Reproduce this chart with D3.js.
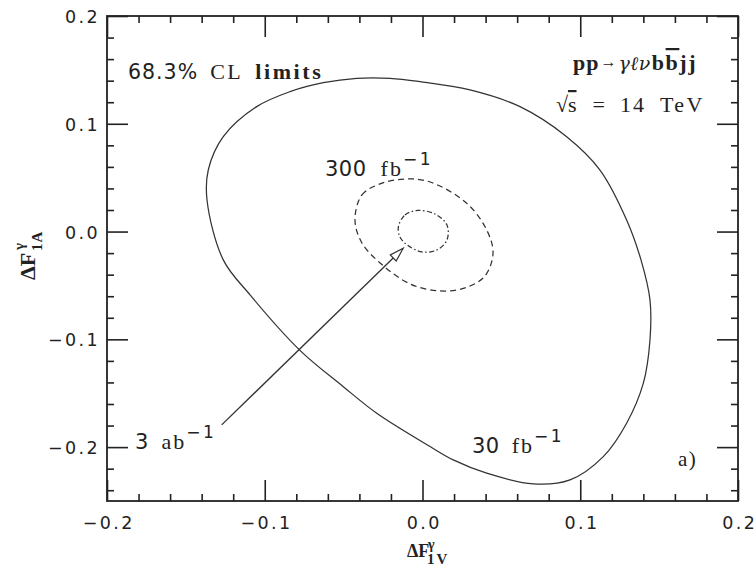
<!DOCTYPE html>
<html>
<head>
<meta charset="utf-8">
<script src="https://cdn.jsdelivr.net/npm/d3@7"></script>
<style>
  html, body { margin: 0; padding: 0; background: #fff; }
  svg { display: block; }
</style>
</head>
<body>
<svg id="chart" width="756" height="568"></svg>
<script>
// Axis ranges and tick values
const xDomain = [-0.2, 0.2];
const yDomain = [-0.25, 0.2];
const xMajor = [-0.2, -0.1, 0.0, 0.1, 0.2];
const yMajor = [-0.2, -0.1, 0.0, 0.1, 0.2];
const minorStep = 0.02;

// 68.3% CL contour, 30 fb^-1 (solid)
const ring30 = [
  [-0.0417, 0.1422], [-0.0206, 0.1422], [-0.0016, 0.1391], [0.0301, 0.1314],
  [0.0618, 0.1159], [0.0914, 0.0880], [0.1125, 0.0571], [0.1294, 0.0108],
  [0.1385, -0.0263], [0.1442, -0.0634], [0.1442, -0.1006], [0.1400, -0.1407],
  [0.1294, -0.1778], [0.1146, -0.2088], [0.0935, -0.2304], [0.0702, -0.2341],
  [0.0407, -0.2242], [0.0195, -0.2119], [0.0048, -0.1995], [-0.0290, -0.1686],
  [-0.0502, -0.1439], [-0.0777, -0.1102], [-0.1093, -0.0588], [-0.1263, -0.0263],
  [-0.1366, 0.0293], [-0.1358, 0.0571], [-0.1263, 0.0880], [-0.1051, 0.1159],
  [-0.0840, 0.1298], [-0.0629, 0.1381]
];

// 68.3% CL contour, 300 fb^-1 (dashed)
const ring300 = [
  [-0.0428, 0.0108], [-0.0384, 0.0340], [-0.0269, 0.0442], [-0.0111, 0.0488],
  [0.0048, 0.0460], [0.0280, 0.0263], [0.0407, 0.0015], [0.0447, -0.0199],
  [0.0396, -0.0412], [0.0269, -0.0523], [0.0111, -0.0551], [-0.0079, -0.0486],
  [-0.0269, -0.0291], [-0.0384, -0.0106]
];

// 68.3% CL contour, 3 ab^-1 (dash-dot)
const ring3000 = [
  [-0.0153, 0.0043], [-0.0111, 0.0154], [-0.0029, 0.0196], [0.0079, 0.0163],
  [0.0155, 0.0061], [0.0155, -0.0078], [0.0092, -0.0170], [-0.0003, -0.0189],
  [-0.0098, -0.0124], [-0.0143, -0.0050]
];

// Pointer from the "3 ab^-1" label to its contour
const arrowFrom = [-0.1273, -0.1794];
const arrowTo = [-0.0122, -0.0155];

const W = 756, H = 568;
const margin = { top: 16, right: 18, bottom: 67, left: 107 };
const ink = "#222";
const sans = "'DejaVu Sans', sans-serif";
const serif = "'Liberation Serif', 'DejaVu Serif', serif";
const serifWide = "'DejaVu Serif', serif";

const svg = d3.select("#chart");

const x = d3.scaleLinear().domain(xDomain).range([margin.left, W - margin.right]);
const y = d3.scaleLinear().domain(yDomain).range([H - margin.bottom, margin.top]);

const isMajor = v => Math.abs(v * 10 - Math.round(v * 10)) < 1e-6;
const stepTicks = (lo, hi) => d3.range(Math.round(lo / minorStep), Math.round(hi / minorStep) + 1)
  .map(i => +(i * minorStep).toFixed(2));
const xMinor = stepTicks(xDomain[0], xDomain[1]).filter(v => !isMajor(v));
const yMinor = stepTicks(yDomain[0], yDomain[1]).filter(v => !isMajor(v));

const fmt = d3.format(".1f");
const majorLen = 21, minorLen = 7;

function styleAxis(g) {
  g.select(".domain").remove();
  g.selectAll(".tick line").attr("stroke", ink).attr("stroke-width", 1.6);
  g.selectAll(".tick text")
    .attr("fill", ink)
    .attr("font-family", sans)
    .attr("font-size", 17.5)
    .attr("letter-spacing", 2.4);
}

const x0 = margin.left, x1 = W - margin.right;
const y0 = H - margin.bottom, y1 = margin.top;

// bottom axis
svg.append("g").attr("transform", `translate(0,${y0})`)
  .call(d3.axisBottom(x).tickValues(xMajor).tickSizeInner(-majorLen).tickSizeOuter(0)
    .tickPadding(16).tickFormat(fmt))
  .call(styleAxis)
  .call(g => g.selectAll(".tick text").attr("dx", 1.2));
svg.append("g").attr("transform", `translate(0,${y0})`)
  .call(d3.axisBottom(x).tickValues(xMinor).tickSizeInner(-minorLen).tickSizeOuter(0).tickFormat(""))
  .call(styleAxis);

// top axis
svg.append("g").attr("transform", `translate(0,${y1})`)
  .call(d3.axisTop(x).tickValues(xMajor).tickSizeInner(-majorLen).tickSizeOuter(0).tickFormat(""))
  .call(styleAxis);
svg.append("g").attr("transform", `translate(0,${y1})`)
  .call(d3.axisTop(x).tickValues(xMinor).tickSizeInner(-minorLen).tickSizeOuter(0).tickFormat(""))
  .call(styleAxis);

// left axis
svg.append("g").attr("transform", `translate(${x0},0)`)
  .call(d3.axisLeft(y).tickValues(yMajor).tickSizeInner(-majorLen).tickSizeOuter(0)
    .tickPadding(7).tickFormat(fmt))
  .call(styleAxis)
  .call(g => g.selectAll(".tick text").attr("dy", "0.38em"));
svg.append("g").attr("transform", `translate(${x0},0)`)
  .call(d3.axisLeft(y).tickValues(yMinor).tickSizeInner(-minorLen).tickSizeOuter(0).tickFormat(""))
  .call(styleAxis);

// right axis
svg.append("g").attr("transform", `translate(${x1},0)`)
  .call(d3.axisRight(y).tickValues(yMajor).tickSizeInner(-majorLen).tickSizeOuter(0).tickFormat(""))
  .call(styleAxis);
svg.append("g").attr("transform", `translate(${x1},0)`)
  .call(d3.axisRight(y).tickValues(yMinor).tickSizeInner(-minorLen).tickSizeOuter(0).tickFormat(""))
  .call(styleAxis);

// frame
svg.append("rect")
  .attr("x", x0).attr("y", y1).attr("width", x1 - x0).attr("height", y0 - y1)
  .attr("fill", "none").attr("stroke", ink).attr("stroke-width", 1.8);

// contours
const ring = d3.line().x(d => x(d[0])).y(d => y(d[1])).curve(d3.curveCatmullRomClosed.alpha(0.5));
const contours = svg.append("g").attr("fill", "none").attr("stroke", "#333").attr("stroke-width", 1.25);
contours.append("path").attr("d", ring(ring30));
contours.append("path").attr("d", ring(ring300)).attr("stroke-dasharray", "6,4");
contours.append("path").attr("d", ring(ring3000)).attr("stroke-dasharray", "5,2.5,1.5,2.5");

// pointer arrow with an open head
{
  const ax = x(arrowFrom[0]), ay = y(arrowFrom[1]);
  const bx = x(arrowTo[0]), by = y(arrowTo[1]);
  const len = Math.hypot(bx - ax, by - ay);
  const ux = (bx - ax) / len, uy = (by - ay) / len;
  const headL = 14, headW = 4.2;
  const cx = bx - ux * headL, cy = by - uy * headL;
  svg.append("line")
    .attr("x1", ax).attr("y1", ay).attr("x2", cx).attr("y2", cy)
    .attr("stroke", "#333").attr("stroke-width", 1.3);
  svg.append("path")
    .attr("d", `M${bx},${by}L${cx - uy * headW},${cy + ux * headW}L${cx + uy * headW},${cy - ux * headW}Z`)
    .attr("fill", "#fff").attr("stroke", "#333").attr("stroke-width", 1.2);
}

// rich text helper
function rich(px, py, anchor, parts) {
  const t = svg.append("text").attr("x", px).attr("y", py)
    .attr("text-anchor", anchor).attr("fill", ink);
  parts.forEach(p => {
    const s = t.append("tspan").text(p.t)
      .attr("font-family", p.f || serif)
      .attr("font-size", p.s || 20)
      .attr("font-weight", p.w || "normal")
      .attr("font-style", p.i ? "italic" : "normal");
    if (p.dx != null) s.attr("dx", p.dx);
    if (p.dy != null) s.attr("dy", p.dy);
    if (p.ls != null) s.attr("letter-spacing", p.ls);
    if (p.deco) s.attr("text-decoration", p.deco);
  });
  return t;
}

rich(128, 79, "start", [
  { t: "68.3%", f: sans, s: 20.5, ls: 1 },
  { t: "CL", s: 22, dx: 12, ls: 2.5 },
  { t: "limits", s: 22, w: "bold", dx: 12, ls: 2.6 }
]);

rich(697, 70, "end", [
  { t: "pp", s: 22, w: "bold", ls: 1 },
  { t: "→", s: 16, dx: 1, dy: -3 },
  { t: "γℓν", f: serifWide, s: 19, i: true, dx: 2, dy: 3, ls: 0.5 },
  { t: "b", s: 22, w: "bold", dx: 1, ls: 1.5 },
  { t: "b", s: 22, w: "bold", deco: "overline", ls: 1.5 },
  { t: "jj", s: 22, w: "bold", ls: 1.5 }
]);

rich(705, 112, "end", [
  { t: "√", s: 22 },
  { t: "s", s: 22, deco: "overline" },
  { t: "=", s: 22, dx: 16 },
  { t: "14", s: 22, dx: 15, ls: 2 },
  { t: "TeV", s: 22, dx: 14, ls: 2.5 }
]);

rich(325, 176, "start", [
  { t: "300", f: sans, s: 21, ls: 0.5 },
  { t: "fb", s: 22, dx: 14, ls: 2 },
  { t: "−1", f: sans, s: 17, dy: -11, ls: 2.5 }
]);

rich(472, 453, "start", [
  { t: "30", f: sans, s: 21, ls: 0.5 },
  { t: "fb", s: 22, dx: 12, ls: 2 },
  { t: "−1", f: sans, s: 17, dy: -11, ls: 2.5 }
]);

rich(135, 449, "start", [
  { t: "3", f: sans, s: 21 },
  { t: "ab", s: 22, dx: 13, ls: 2 },
  { t: "−1", f: sans, s: 17, dy: -11, ls: 2.5 }
]);

rich(678, 466, "start", [{ t: "a)", s: 21, ls: 1.5 }]);

// x-axis title: ΔF^γ_1V
{
  const t = svg.append("text").attr("transform", `translate(407,557)`).attr("fill", ink)
    .attr("font-family", serif);
  t.append("tspan").attr("x", 0).attr("y", 0).attr("font-size", 18).attr("font-weight", "bold").text("ΔF");
  t.append("tspan").attr("x", 21).attr("y", -8).attr("font-size", 14).attr("font-weight", "bold").text("γ");
  t.append("tspan").attr("x", 20).attr("y", 7).attr("font-size", 15).attr("font-weight", "bold")
    .attr("letter-spacing", 2).text("1V");
}

// y-axis title: ΔF^γ_1A
{
  const t = svg.append("text").attr("transform", `translate(35,280) rotate(-90)`).attr("fill", ink)
    .attr("font-family", serif);
  t.append("tspan").attr("x", 0).attr("y", 0).attr("font-size", 22).attr("font-weight", "bold").text("ΔF");
  t.append("tspan").attr("x", 30).attr("y", -11).attr("font-size", 15).attr("font-weight", "bold").text("γ");
  t.append("tspan").attr("x", 29).attr("y", 7).attr("font-size", 15).attr("font-weight", "bold")
    .attr("letter-spacing", 1).text("1A");
}
</script>
</body>
</html>
